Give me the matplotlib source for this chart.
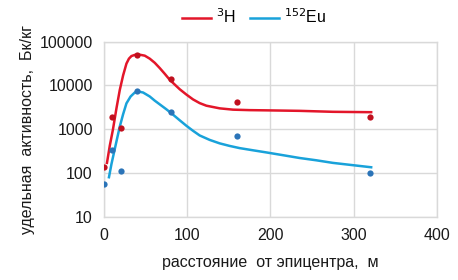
import numpy as np
import matplotlib.pyplot as plt
from matplotlib.lines import Line2D

plt.rcParams['font.family'] = ['Liberation Sans', 'DejaVu Sans']

# measured points
dist = [0, 10, 20, 40, 80, 160, 320]
h3_meas = [137, 1950, 1050, 49000, 13700, 4200, 1880]
eu_dist = [0, 10, 20, 40, 80, 160, 320]
eu_meas = [56, 340, 110, 7300, 2540, 710, 100]

# model curves
h3_curve_x = [3.6, 7, 10.8, 15, 19, 23, 27, 30, 33, 37, 43, 49, 55, 61, 67, 73, 79,
              85, 91, 99, 107, 115, 123, 139, 155, 175, 195, 235, 275, 321]
h3_curve_y = [170, 420, 990, 3000, 7900, 17000, 31600, 41000, 47000, 50000, 50500,
              48000, 41000, 33000, 25000, 18500, 13500, 10500, 8200, 6200, 4800,
              3950, 3450, 3000, 2800, 2730, 2700, 2630, 2500, 2450]
eu_curve_x = [6, 9, 12.8, 16, 19, 23, 27, 32, 37, 41, 47, 55, 61, 67, 75, 83, 91,
              99, 107, 115, 127, 139, 151, 163, 179, 195, 215, 235, 255, 275, 300, 321]
eu_curve_y = [80, 160, 340, 640, 1150, 2200, 3900, 5600, 6900, 7300, 6900, 5600,
              4500, 3700, 2850, 2150, 1600, 1200, 920, 720, 570, 475, 415, 370,
              330, 295, 255, 220, 195, 170, 150, 135]

red_line = '#E3162A'
red_dot = '#C0101E'
blue_line = '#19A2DA'
blue_dot = '#2B74B8'
grid_col = '#D9D9D9'
text_col = '#1a1a1a'

fig = plt.figure(figsize=(4.58, 2.80), dpi=100)
ax = fig.add_axes([0.227, 0.226, 0.727, 0.625])

ax.plot(h3_curve_x, h3_curve_y, color=red_line, lw=1.8, solid_joinstyle='round', zorder=3)
ax.plot(eu_curve_x, eu_curve_y, color=blue_line, lw=1.8, solid_joinstyle='round', zorder=3)
ax.plot(dist, h3_meas, 'o', color=red_dot, ms=4.5, mec='none', zorder=4)
ax.plot(eu_dist, eu_meas, 'o', color=blue_dot, ms=4.5, mec='none', zorder=4)

ax.set_yscale('log')
ax.set_xlim(0, 400)
ax.set_ylim(10, 100000)
ax.set_xticks([0, 100, 200, 300, 400])
ax.set_yticks([10, 100, 1000, 10000, 100000])
ax.set_yticklabels(['10', '100', '1000', '10000', '100000'])
ax.minorticks_off()
ax.tick_params(length=0, labelsize=11.5, colors=text_col, pad=8)
ax.grid(True, color=grid_col, lw=1)
for s in ax.spines.values():
    s.set_color(grid_col)
    s.set_linewidth(1)

ax.set_xlabel('расстояние  от эпицентра,  м', fontsize=11.5, color=text_col, labelpad=9)
ax.set_ylabel('удельная  активность,  Бк/кг', fontsize=11.5, color=text_col, labelpad=3)

handles = [Line2D([], [], color=red_line, lw=1.8),
           Line2D([], [], color=blue_line, lw=1.8)]
fig.legend(handles, [r'$^{3}$H', r'$^{152}$Eu'], loc='center', bbox_to_anchor=(0.555, 0.94),
           ncol=2, frameon=False, fontsize=11.5, handlelength=1.8, handletextpad=0.3,
           columnspacing=0.9)

fig.savefig('out.png', dpi=100)
